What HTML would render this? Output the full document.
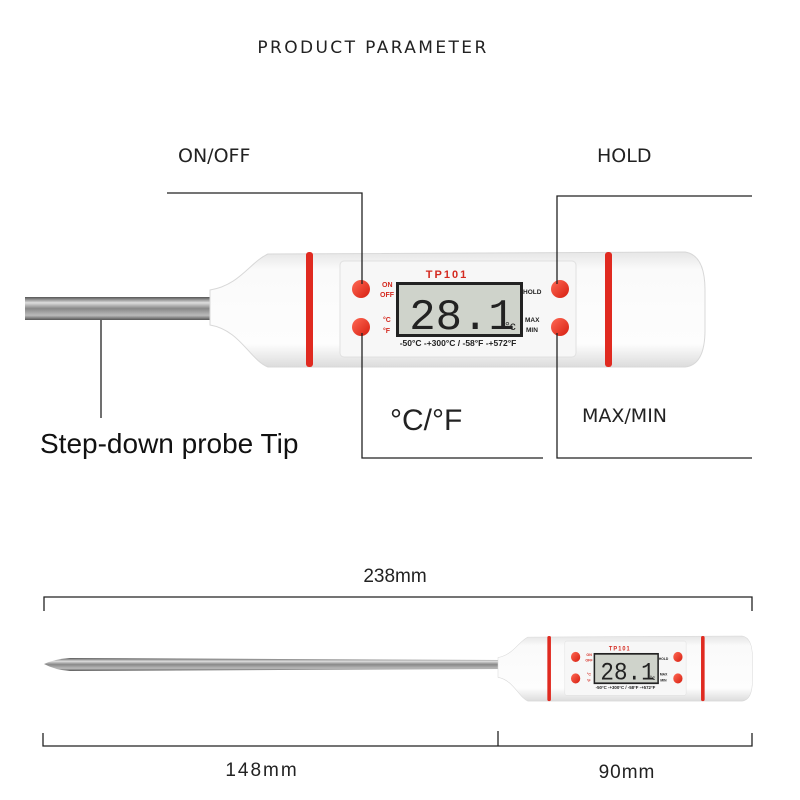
<!DOCTYPE html>
<html><head><meta charset="utf-8"><style>
html,body{margin:0;padding:0;background:#fff}
svg{display:block}
</style></head><body>
<svg width="800" height="800" viewBox="0 0 800 800" xmlns="http://www.w3.org/2000/svg">
<defs>
<linearGradient id="rod" x1="0" y1="0" x2="0" y2="1">
<stop offset="0" stop-color="#555"/><stop offset="0.25" stop-color="#ddd"/><stop offset="0.5" stop-color="#888"/><stop offset="0.8" stop-color="#bbb"/><stop offset="1" stop-color="#555"/>
</linearGradient>
<linearGradient id="body" x1="0" y1="0" x2="0" y2="1">
<stop offset="0" stop-color="#e6e6e6"/><stop offset="0.15" stop-color="#fafafa"/><stop offset="0.8" stop-color="#fdfdfd"/><stop offset="1" stop-color="#dcdcdc"/>
</linearGradient>
<linearGradient id="btn" x1="0" y1="0" x2="1" y2="1">
<stop offset="0" stop-color="#ff6a55"/><stop offset="1" stop-color="#d61e10"/>
</linearGradient>
<g id="therm">
<path d="M210 290 C240 285 250 262 268 254 L685 252 Q705 255 705 290 L705 330 Q705 365 685 367 L268 367 C250 360 240 330 210 325 Z" fill="url(#body)" stroke="#d8d8d8"/>
<rect x="306" y="252" width="7" height="115" rx="3" fill="#e02a20"/>
<rect x="605" y="252" width="7" height="115" rx="3" fill="#e02a20"/>
<rect x="340" y="261" width="236" height="96" rx="4" fill="#f7f7f7" stroke="#e0e0e0"/>
<rect x="396" y="282" width="127" height="55" fill="#222"/>
<rect x="399" y="285" width="121" height="49" fill="#cfd3cb"/>
<text x="447" y="278" font-family="Liberation Sans,sans-serif" font-weight="bold" font-size="11" fill="#d42a20" text-anchor="middle" letter-spacing="2">TP101</text>
<text x="462" y="329" font-family="Liberation Mono,monospace" font-size="44" fill="#222" text-anchor="middle">28.1</text>
<text x="505" y="330" font-family="Liberation Sans,sans-serif" font-size="12" fill="#222">°c</text>
<text x="458" y="346" font-family="Liberation Sans,sans-serif" font-weight="bold" font-size="8.5" fill="#222" text-anchor="middle">-50°C -+300°C / -58°F -+572°F</text>
<circle cx="361" cy="289" r="9" fill="url(#btn)"/>
<circle cx="361" cy="327" r="9" fill="url(#btn)"/>
<circle cx="560" cy="289" r="9" fill="url(#btn)"/>
<circle cx="560" cy="327" r="9" fill="url(#btn)"/>
<text x="382" y="287" font-family="Liberation Sans,sans-serif" font-weight="bold" font-size="7" fill="#d42a20">ON</text>
<text x="380" y="297" font-family="Liberation Sans,sans-serif" font-weight="bold" font-size="7" fill="#d42a20">OFF</text>
<text x="383" y="322" font-family="Liberation Sans,sans-serif" font-weight="bold" font-size="7" fill="#d42a20">°C</text>
<text x="383" y="333" font-family="Liberation Sans,sans-serif" font-weight="bold" font-size="7" fill="#d42a20">°F</text>
<text x="523" y="294" font-family="Liberation Sans,sans-serif" font-weight="bold" font-size="6.5" fill="#222">HOLD</text>
<text x="525" y="322" font-family="Liberation Sans,sans-serif" font-weight="bold" font-size="6.5" fill="#222">MAX</text>
<text x="526" y="332" font-family="Liberation Sans,sans-serif" font-weight="bold" font-size="6.5" fill="#222">MIN</text>
</g>
</defs>

<text x="373" y="53" font-family="DejaVu Sans,sans-serif" font-size="17" fill="#222" text-anchor="middle" letter-spacing="2.4">PRODUCT PARAMETER</text>

<rect x="25" y="297" width="188" height="23" fill="url(#rod)"/>
<use href="#therm"/>

<g stroke="#222" stroke-width="1.3" fill="none">
<polyline points="167,193 362,193 362,284"/>
<polyline points="752,196 557,196 557,284"/>
<polyline points="362,333 362,458 543,458"/>
<polyline points="557,333 557,458 752,458"/>
<line x1="101" y1="320" x2="101" y2="418"/>
</g>

<g font-family="DejaVu Sans,sans-serif" fill="#222">
<text x="178" y="162" font-size="19">ON/OFF</text>
<text x="597" y="162" font-size="19">HOLD</text>
<text x="582" y="422" font-size="19">MAX/MIN</text>
</g>
<text x="390" y="430" font-family="Liberation Sans,sans-serif" font-size="30" fill="#222">°C/°F</text>
<text x="40" y="453" font-family="Liberation Sans,sans-serif" font-size="28" fill="#111">Step-down probe Tip</text>

<g stroke="#222" stroke-width="1.3" fill="none">
<polyline points="44,611 44,597 752,597 752,611"/>
<polyline points="43,733 43,746 752,746 752,733"/>
<line x1="498" y1="731" x2="498" y2="746"/>
</g>
<g font-family="Liberation Sans,sans-serif" fill="#222" font-size="19" text-anchor="middle">
<text x="395" y="582">238mm</text>
<text x="262" y="776" letter-spacing="2">148mm</text>
<text x="627" y="778" letter-spacing="1">90mm</text>
</g>

<path d="M44 664 Q55 659 70 658 L500 660 L500 669 L70 671 Q55 670 44 664 Z" fill="url(#rod)"/>
<g transform="translate(498 636) scale(0.514 0.566) translate(-210 -252)">
<use href="#therm"/>
</g>
</svg>
</body></html>
